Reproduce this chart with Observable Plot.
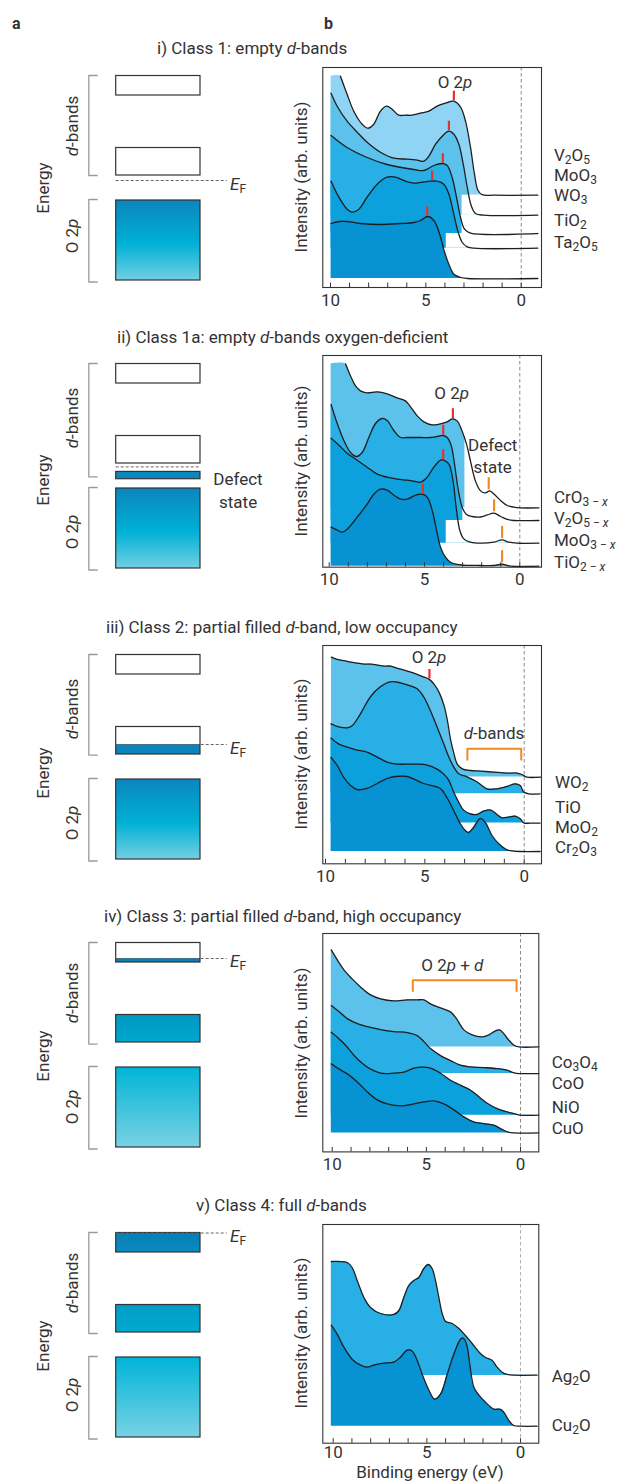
<!DOCTYPE html>
<html><head><meta charset="utf-8">
<script src="https://cdn.jsdelivr.net/npm/d3@7"></script>
<script src="https://cdn.jsdelivr.net/npm/@observablehq/plot@0.6"></script>
<style>
body{margin:0;background:#fff;}
#fig{position:relative;width:622px;height:1482px;font-family:Roboto,"Open Sans",sans-serif;color:#333;overflow:hidden;background:#fff}
#fig svg{position:absolute;overflow:visible}
.t{position:absolute;white-space:nowrap;line-height:1;font-size:17px}
.t sub{font-size:12px;vertical-align:-0.32em;line-height:0}
.b{font-weight:bold}
</style></head><body><div id="fig"></div>
<script>
// ---------------- DATA ----------------
const energyTicks = [0,1,2,3,4,5,6,7,8,9,10];
const energyTickLabels = [10,5,0];

const rowTitles = [
  "i) Class 1: empty <i>d</i>-bands",
  "ii) Class 1a: empty <i>d</i>-bands oxygen-deficient",
  "iii) Class 2: partial filled <i>d</i>-band, low occupancy",
  "iv) Class 3: partial filled <i>d</i>-band, high occupancy",
  "v) Class 4: full <i>d</i>-bands"
];

// Row i spectra (binding energy eV, intensity above own baseline, arb. units)
const r1Names = ["V<sub>2</sub>O<sub>5</sub>","MoO<sub>3</sub>","WO<sub>3</sub>","TiO<sub>2</sub>","Ta<sub>2</sub>O<sub>5</sub>"];
const r1Offsets = [92.3, 72.3, 54, 39.3, 9];
const r1_V2O5 = [[9.48,119],[9.13,101],[8.78,84],[8.34,71],[8.04,67],[7.73,71],[7.38,84],[7.06,89],[6.77,86],[6.42,80],[6.07,80],[5.72,80],[5.28,82],[4.84,84],[4.41,89],[3.97,92],[3.53,94],[3.18,88],[2.92,74],[2.66,48],[2.45,21],[2.27,5],[2.05,0.5],[1.43,0],[-0.87,0]];
const r1_MoO3 = [[9.97,122],[9.65,109],[9.13,94],[8.6,83],[8.08,73],[7.38,63],[6.68,57],[5.98,56],[5.45,55],[5.1,54],[4.84,59],[4.49,71],[4.14,79],[3.79,84],[3.53,81],[3.27,71],[3.04,51],[2.83,28],[2.62,9.4],[2.4,1.7],[1.96,0],[-0.87,0]];
const r1_WO3 = [[9.97,98],[9.13,86],[8.08,76],[7.03,69],[5.63,64],[5.1,63],[4.58,68],[4.14,70],[3.88,68],[3.62,56],[3.39,36],[3.18,16],[2.97,4.3],[2.66,0.3],[-0.87,0]];
const r1_TiO2 = [[9.97,67],[9.56,51],[9.13,39],[8.86,36],[8.51,39],[8.08,51],[7.55,64],[7.03,71],[6.59,71],[6.07,67],[5.63,65],[5.19,66],[4.76,67],[4.41,67],[4.06,64],[3.79,54],[3.57,37],[3.32,17],[3.09,5.7],[2.83,1.4],[2.48,0],[-0.87,0]];
const r1_Ta2O5 = [[9.97,55],[9.56,57],[9.13,57],[8.43,55],[7.38,54],[6.33,55],[5.63,56],[5.28,58],[4.9,62],[4.58,58],[4.27,44],[4.06,29],[3.79,14],[3.53,4.3],[3.18,1],[2.83,0],[-0.87,0]];
const r1Cutoffs = [null, 3.1, 3.1, 3.93, null];
const r1O2p = [3.53, 3.79, 4.11, 4.67, 4.93];

// Row ii spectra
const r2Names = ["CrO<sub>3 − <i>x</i></sub>","V<sub>2</sub>O<sub>5 − <i>x</i></sub>","MoO<sub>3 − <i>x</i></sub>","TiO<sub>2 − <i>x</i></sub>"];
const r2Offsets = [59.3, 46.7, 24, 1];
const r2_CrO3x = [[9.14,144],[8.88,132],[8.62,122],[8.36,117],[8.01,115],[7.48,116],[6.96,114],[6.43,110],[6,107],[5.65,99],[5.38,92],[5.03,86],[4.6,83],[4.16,84],[3.81,86],[3.55,89],[3.29,87],[3.03,77],[2.8,64],[2.59,47],[2.33,27],[2.06,17],[1.8,15],[1.59,17],[1.36,14],[1.01,7.4],[0.66,2.4],[0.31,0.7],[-0.03,0],[-1,0]];
const r2_V2O5x = [[9.9,116],[9.58,97],[9.23,80],[8.88,68],[8.57,64],[8.27,68],[7.92,83],[7.57,97],[7.22,102],[6.96,100],[6.61,90],[6.26,83],[5.91,83],[5.21,83],[4.69,83],[4.34,84],[4.04,85],[3.81,83],[3.6,75],[3.43,57],[3.25,33],[3.02,13],[2.8,6],[2.5,4],[2.06,3.5],[1.71,5.5],[1.36,7.3],[1.01,4],[0.66,1],[0.31,0],[-1,0]];
const r2_MoO3x = [[9.9,105],[9.49,98],[9.06,90],[8.53,83],[8.01,76],[7.48,69],[6.96,66],[6.43,64],[5.91,63],[5.56,62],[5.21,61],[4.86,66],[4.51,76],[4.16,83],[3.99,83],[3.72,79],[3.51,63],[3.34,36],[3.15,13],[2.94,4.3],[2.59,1],[2.06,0],[1.36,1],[0.93,3.3],[0.58,1],[0.14,0],[-1,0]];
const r2_TiO2x = [[9.9,39],[9.58,36],[9.32,34],[9.06,37],[8.53,49],[8.01,62],[7.66,72],[7.31,77],[6.96,76],[6.61,71],[6.26,67],[5.91,67],[5.47,71],[5.12,72],[4.86,69],[4.6,56],[4.37,36],[4.16,19],[3.9,9],[3.64,4],[3.11,1.3],[2.06,0.7],[1.36,0.7],[0.93,2],[0.49,0],[-1,0]];
const r2Cutoffs = [2.88, 2.99, 3.86, null];
const r2O2p = [3.51, 4.02, 4.02, 5.09];
const r2Defect = [1.63, 1.35, 0.93, 0.93];

// Row iii spectra
const r3Names = ["WO<sub>2</sub>","TiO","MoO<sub>2</sub>","Cr<sub>2</sub>O<sub>3</sub>"];
const r3Offsets = [86.7, 70, 40.7, 12.3];
const r3_WO2 = [[9.7,120],[9.45,118],[9.23,117],[8.95,116],[8.73,115],[8.4,114],[8.06,113],[7.7,113],[7.39,112],[7.05,111],[6.72,111],[6.4,109],[6.05,107],[5.55,104],[5.04,100],[4.79,98],[4.54,93],[4.29,85],[4.04,72],[3.87,57],[3.7,37],[3.53,23],[3.37,13],[3.12,8.3],[2.7,6.6],[2.21,6],[1.54,5],[0.87,4],[0.37,4],[0.12,2.6],[-0.13,0],[-0.82,0]];
const r3_TiO = [[9.72,70],[9.33,67],[8.91,66],[8.66,68],[8.24,80],[7.74,97],[7.24,107],[6.73,112],[6.23,111],[5.73,108],[5.39,105],[5.06,97],[4.72,83],[4.39,67],[4.05,50],[3.8,37],[3.55,27],[3.3,20],[2.88,17],[2.38,12],[1.88,5],[1.37,5],[0.87,7.3],[0.45,10],[0.2,8.3],[0.03,1.7],[-0.22,0],[-0.8,0]];
const r3_MoO2 = [[9.72,85],[9.33,79],[8.91,76],[8.41,73],[7.91,71],[7.4,66],[6.9,61],[6.4,59],[5.56,59],[4.89,58],[4.39,54],[4.05,49],[3.8,43],[3.55,31],[3.3,21],[3.05,13],[2.71,9.3],[2.38,8.6],[2.04,12],[1.68,13],[1.37,8.6],[1.12,5.3],[0.79,6],[0.45,7],[0.2,4.3],[0,0],[-0.3,0],[-0.8,0]];
const r3_Cr2O3 = [[9.72,94],[9.41,86],[9.08,74],[8.74,66],[8.41,62],[7.91,63],[7.4,68],[6.9,73],[6.48,75],[5.9,75],[5.06,68],[4.22,63],[3.89,54],[3.55,41],[3.22,28],[2.96,21],[2.8,19],[2.55,24],[2.21,33],[1.96,29],[1.62,16],[1.28,7.7],[0.87,1.7],[0.54,0.4],[0.2,0],[-0.8,0]];
const r3O2p = [4.77];
const r3DBands = [2.86, 0.15];

// Row iv spectra
const r4Names = ["Co<sub>3</sub>O<sub>4</sub>","CoO","NiO","CuO"];
const r4Offsets = [105, 78.3, 36.7, 19];
const r4_Co3O4 = [[10.05,97],[9.73,87],[9.38,77],[8.94,68],[8.5,60],[7.96,52],[7.43,48],[6.73,46],[6.02,47],[5.49,47],[5.13,47],[4.78,43],[4.25,39],[3.72,35],[3.36,27],[3.01,17],[2.57,12],[2.04,10],[1.68,12],[1.33,16],[1.1,17],[0.88,13],[0.62,6.7],[0.35,1.7],[0.09,0],[-0.97,0]];
const r4_CoO = [[10.05,68],[9.65,62],[9.2,55],[8.67,50],[8.14,47],[7.43,44],[6.73,42],[6.02,41],[5.49,38],[5.13,32],[4.78,25],[4.25,18],[3.72,13],[3.19,8.4],[2.65,6.7],[1.95,6],[1.24,5],[0.71,3.4],[0.35,0.7],[0,0],[-0.97,0]];
const r4_NiO = [[10.05,83],[9.73,78],[9.29,70],[8.85,60],[8.41,52],[7.96,46],[7.43,42],[6.73,42],[6.19,43],[5.66,47],[5.22,48],[4.78,47],[4.25,42],[3.72,35],[3.19,30],[2.65,25],[2.12,17],[1.77,12],[1.24,6.6],[0.71,3.3],[0.35,1.6],[0,0],[-0.97,0]];
const r4_CuO = [[10.05,69],[9.65,64],[9.2,59],[8.67,51],[8.14,41],[7.61,33],[7.08,29],[6.37,27],[5.66,29],[5.13,31],[4.6,32],[4.07,29],[3.54,23],[3.01,16],[2.48,11],[1.95,9.3],[1.42,7.7],[1.06,4.3],[0.71,1],[0.35,0],[-0.97,0]];
const r4Bracket = [5.72, 0.21];

// Row v spectra
const r5Names = ["Ag<sub>2</sub>O","Cu<sub>2</sub>O"];
const r5Offsets = [67.7, 17];
const r5_Ag2O = [[10.1,114],[9.7,114],[9.25,113],[8.99,108],[8.72,95],[8.36,78],[8.01,68],[7.47,62],[6.76,61],[6.49,65],[6.23,78],[5.96,90],[5.69,95],[5.43,98],[5.16,107],[4.93,111],[4.72,107],[4.54,95],[4.36,78],[4.18,62],[4,54],[3.65,52],[3.29,47],[2.94,40],[2.58,32],[2.14,22],[1.87,18],[1.51,15],[1.25,8.3],[0.98,3.3],[0.71,1],[0.36,0.3],[-0.89,0.3]];
const r5_Cu2O = [[10.1,101],[9.79,92],[9.43,79],[8.99,67],[8.54,61],[8.19,59],[7.83,61],[7.3,63],[6.76,64],[6.41,69],[6.05,76],[5.78,75],[5.52,66],[5.25,52],[4.89,36],[4.59,27],[4.27,32],[3.91,52],[3.56,72],[3.2,87],[3.06,88],[2.88,82],[2.71,62],[2.49,39],[2.22,31],[1.87,24],[1.42,17],[1.1,17],[0.89,14],[0.62,5.7],[0.36,0.7],[0,0],[-0.89,0]];

// Panel a: schematic band energies (arb. energy units, 0 = bottom of O 2p band)
const bandO2p = [0, 80];
const bandDLower = [105, 132.5];
const bandDUpper = [185, 204.5];
const bracketD = [105, 205];
const bracketO = [-1.5, 81];
const fermiLevels = [100, 101.6, 115, 189, 204.5];
const defectBand = [89.3, 96.6];
const filledPartLow = [105, 115];   // class 2
const filledPartHigh = [185, 189];  // class 3

// ---------------- STYLE ----------------
const specColors = ["#8fd4f4","#5cc2ec","#28afe5","#0ca1dd","#0793d3"];
const RED = "#e8312e", ORANGE = "#f08a24", LINE = "#1e1e1e";
const FONT = 'Roboto, "Open Sans", sans-serif';
const fig = document.getElementById("fig");

function txt(html, x, y, o = {}) {
  const d = document.createElement("div");
  d.className = "t" + (o.cls ? " " + o.cls : "");
  d.innerHTML = html;
  d.style.left = x + "px"; d.style.top = y + "px";
  if (o.size) d.style.fontSize = o.size + "px";
  let tf = o.center ? "translate(-50%,-50%)" : "translate(0,-50%)";
  if (o.rotate) tf += ` rotate(${o.rotate}deg)`;
  d.style.transform = tf;
  fig.appendChild(d);
  return d;
}

function interp(data, x) {
  for (let i = 0; i < data.length - 1; i++) {
    const [x0, y0] = data[i], [x1, y1] = data[i + 1];
    if (x <= x0 && x >= x1) return y0 + (y1 - y0) * (x - x0) / (x1 - x0);
  }
  return 0;
}

// ---------------- PANEL b ----------------
function spectraPanel(p) {
  const left = 280, width = 342, mt = 8, mb = 34;
  const H = p.bottom - p.top;
  const ml = 322.3 - left, mr = left + width - p.right;
  const marks = [];
  p.series.forEach((d, i) => {
    const base = p.offsets[i];
    let pts = d.slice();
    if (p.fillFrom && p.fillFrom[i] != null) pts.unshift([p.fillFrom[i], d[0][1]]);
    marks.push(Plot.areaY(pts, {x: q => q[0], y1: () => base, y2: q => base + q[1], fill: p.colors[i], curve: "catmull-rom"}));
    // empty (unfilled) part: below the previous spectrum's baseline, at lower binding energy than the cutoff
    const cut = p.cutoffs ? p.cutoffs[i] : null;
    if (cut != null) {
      const upper = i > 0 ? p.offsets[i - 1] : H;
      marks.push(Plot.rect([cut], {x1: c => c, x2: () => p.domain[1], y1: () => base, y2: () => upper, fill: "white"}));
    }
  });
  marks.push(Plot.ruleX([0], {stroke: p.zeroColor || "#8a8a8a", strokeWidth: 1, strokeDasharray: "3.5,2.5"}));
  marks.push(Plot.ruleX(energyTicks, {x: d => d, y1: () => 0, y2: () => 4.5, stroke: "#333", strokeWidth: 1}));
  p.series.forEach((d, i) => {
    const base = p.offsets[i];
    marks.push(Plot.line(d, {x: q => q[0], y: q => base + q[1], stroke: LINE, strokeWidth: 1.3, curve: "catmull-rom"}));
  });
  (p.markers || []).forEach(m => {
    const base = p.offsets[m.i];
    const v = base + interp(p.series[m.i], m.x);
    marks.push(Plot.ruleX([m.x], {x: d => d, y1: () => v + m.gap, y2: () => v + m.gap + m.len, stroke: m.color, strokeWidth: 2.2}));
  });
  (p.brackets || []).forEach(b => {
    marks.push(Plot.line([[b.x[0], b.leg], [b.x[0], b.top], [b.x[1], b.top], [b.x[1], b.leg]], {x: q => q[0], y: q => q[1], stroke: ORANGE, strokeWidth: 2}));
  });
  marks.push(Plot.frame({stroke: "#333", strokeWidth: 1.1}));
  marks.push(Plot.axisX(energyTickLabels, {tickSize: 0, tickPadding: p.tickPadding ?? 6, fontSize: 17, label: null, tickFormat: d => String(d)}));
  const svg = Plot.plot({
    width, height: H + mt + mb,
    marginLeft: ml, marginRight: mr, marginTop: mt, marginBottom: mb,
    x: {domain: p.domain},
    y: {domain: [0, H], axis: null},
    style: {fontFamily: FONT, fontSize: "17px", color: "#333", background: "transparent", overflow: "visible"},
    marks
  });
  svg.style.left = left + "px"; svg.style.top = (p.top - mt) + "px";
  fig.appendChild(svg);
  txt("Intensity (arb. units)", 300.7, (p.top + p.bottom) / 2, {center: true, rotate: -90});
  p.names.forEach((n, i) => txt(n, p.labelX, p.labelY[i]));
}

// ---------------- PANEL a ----------------
let gid = 0;
function bandPanel(p) {
  const H = 232, top = p.bottom - 215;
  const X1 = 115.7, X2 = 200, BX = 88.3, BT = 96.7;
  const defs = [];
  function grad(stops) {
    const id = "g" + (gid++);
    defs.push(`<linearGradient id="${id}" x1="0" y1="0" x2="0" y2="1">` +
      stops.map(s => `<stop offset="${s[0]}" stop-color="${s[1]}"/>`).join("") + `</linearGradient>`);
    return `url(#${id})`;
  }
  const marks = [];
  p.fills.forEach(f => {
    const fill = Array.isArray(f.color) ? grad(f.color) : f.color;
    marks.push(Plot.rect([f.band], {x1: () => X1, x2: () => X2, y1: d => d[0], y2: d => d[1], fill}));
  });
  marks.push(Plot.rect([bandDLower, bandDUpper, bandO2p].concat(p.extraBoxes || []),
    {x1: () => X1, x2: () => X2, y1: d => d[0], y2: d => d[1], fill: "none", stroke: "#333", strokeWidth: 1.2}));
  marks.push(Plot.ruleY([p.ef], {y: d => d, x1: () => X1, x2: () => p.efEnd, stroke: "#666", strokeWidth: 1, strokeDasharray: "3,2"}));
  [bracketD.slice(), bracketO].forEach((b, k) => {
    const bb = (k === 0 && p.bracketDLow != null) ? [p.bracketDLow, b[1]] : b;
    marks.push(Plot.line([[BT, bb[1]], [BX, bb[1]], [BX, bb[0]], [BT, bb[0]]], {x: q => q[0], y: q => q[1], stroke: "#9a9a9a", strokeWidth: 1.3}));
  });
  const svg = Plot.plot({
    width: 280, height: H, marginLeft: 0, marginRight: 0, marginTop: 0, marginBottom: 0,
    x: {domain: [0, 280], axis: null},
    y: {domain: [215 - H, 215], axis: null},
    style: {background: "transparent", overflow: "visible"},
    marks
  });
  const d = document.createElementNS("http://www.w3.org/2000/svg", "defs");
  d.innerHTML = defs.join("");
  svg.insertBefore(d, svg.firstChild);
  svg.style.left = "0px"; svg.style.top = top + "px";
  fig.appendChild(svg);
  const yOf = e => p.bottom - e;
  txt("<i>d</i>-bands", 72, p.dLabelY, {center: true, rotate: -90});
  txt("O 2<i>p</i>", 72, p.oLabelY, {center: true, rotate: -90});
  txt("Energy", 43, p.energyY, {center: true, rotate: -90});
  if (p.efLabel) txt("<i>E</i><sub>F</sub>", 230, yOf(p.ef) + 3.5);
}

const gradDeep = [[0, "#0a86be"], [0.55, "#00b1d5"], [1, "#74cfe2"]];
const gradLight = [[0, "#00b4d7"], [1, "#79d2e4"]];

// ---------------- BUILD ----------------
txt("a", 12, 24, {cls: "b", size: 16});
txt("b", 324, 24, {cls: "b", size: 16});
txt(rowTitles[0], 157, 48);
txt(rowTitles[1], 117, 336.5);
txt(rowTitles[2], 106, 626.5);
txt(rowTitles[3], 104, 916);
txt(rowTitles[4], 196, 1205);

// Row i
bandPanel({bottom: 280, ef: fermiLevels[0], efEnd: 226.7, efLabel: true,
  fills: [{band: bandO2p, color: gradDeep}],
  dLabelY: 125.8, oLabelY: 236, energyY: 187.5});
spectraPanel({top: 66.7, bottom: 286.7, right: 541, domain: [10.404, -1.064],
  series: [r1_V2O5, r1_MoO3, r1_WO3, r1_TiO2, r1_Ta2O5], offsets: r1Offsets,
  colors: specColors, cutoffs: r1Cutoffs, fillFrom: [9.97, null, null, null, null],
  markers: r1O2p.map((x, i) => ({i, x, gap: 0.5, len: 9.5, color: RED})),
  names: r1Names, labelX: 554, labelY: [155, 175, 195, 220, 241.7]});
txt("O 2<i>p</i>", 455, 81.7, {center: true});

// Row ii
bandPanel({bottom: 568.3, ef: fermiLevels[1], efEnd: 200, efLabel: false,
  fills: [{band: bandO2p, color: gradDeep}, {band: defectBand, color: "#0a89c1"}],
  extraBoxes: [defectBand], bracketDLow: 91.6,
  dLabelY: 417.5, oLabelY: 532.3, energyY: 480});
txt("Defect", 213.3, 479.3);
txt("state", 219, 501.7);
spectraPanel({top: 355, bottom: 566.7, right: 541, domain: [10.336, -1.138],
  series: [r2_CrO3x, r2_V2O5x, r2_MoO3x, r2_TiO2x], offsets: r2Offsets,
  colors: specColors.slice(1), cutoffs: r2Cutoffs, fillFrom: [9.9, null, null, null],
  markers: r2O2p.map((x, i) => ({i, x, gap: 0.5, len: 10, color: RED}))
    .concat(r2Defect.map((x, i) => ({i, x, gap: 1.5, len: 12, color: ORANGE}))),
  names: r2Names, labelX: 554, labelY: [496.7, 518.3, 540, 561.7]});
txt("O 2<i>p</i>", 451.7, 393.3, {center: true});
txt("Defect", 492.7, 445, {center: true});
txt("state", 492.7, 466.7, {center: true});

// Row iii
bandPanel({bottom: 859.3, ef: fermiLevels[2], efEnd: 226.7, efLabel: true,
  fills: [{band: bandO2p, color: gradDeep}, {band: filledPartLow, color: "#0a84bb"}],
  bracketDLow: 104.3,
  dLabelY: 709.2, oLabelY: 822.5, energyY: 772.5});
spectraPanel({top: 645, bottom: 863.3, right: 541, domain: [10.136, -0.87],
  series: [r3_WO2, r3_TiO, r3_MoO2, r3_Cr2O3], offsets: r3Offsets,
  colors: specColors.slice(1),
  markers: r3O2p.map((x, i) => ({i, x, gap: 0.5, len: 9.5, color: RED})),
  brackets: [{x: r3DBands, top: 115, leg: 104}],
  names: r3Names, labelX: 555, labelY: [781.7, 806.7, 826.7, 846.7]});
txt("O 2<i>p</i>", 429, 656.7, {center: true});
txt("<i>d</i>-bands", 494, 733.3, {center: true});

// Row iv
bandPanel({bottom: 1146.7, ef: fermiLevels[3], efEnd: 226.7, efLabel: true,
  fills: [{band: bandO2p, color: gradLight}, {band: bandDLower, color: [[0, "#0098c3"], [1, "#00a8ce"]]}, {band: filledPartHigh, color: "#0a80b6"}],
  bracketDLow: 103.4,
  dLabelY: 993.3, oLabelY: 1106.7, energyY: 1055.8});
spectraPanel({top: 933.3, bottom: 1151.7, right: 538.3, domain: [10.5, -0.97],
  series: [r4_Co3O4, r4_CoO, r4_NiO, r4_CuO], offsets: r4Offsets,
  colors: specColors.slice(1),
  brackets: [{x: r4Bracket, top: 171.7, leg: 161}],
  names: r4Names, labelX: 551.7, labelY: [1061.7, 1083.3, 1106.7, 1128.3]});
txt("O 2<i>p</i> + <i>d</i>", 452.3, 965, {center: true});

// Row v
bandPanel({bottom: 1436.7, ef: fermiLevels[4], efEnd: 226.7, efLabel: true,
  fills: [{band: bandO2p, color: gradLight}, {band: bandDLower, color: [[0, "#009ec8"], [1, "#00a9cf"]]}, {band: bandDUpper, color: [[0, "#067fb5"], [1, "#0a8abf"]]}],
  bracketDLow: 104,
  dLabelY: 1283.3, oLabelY: 1395, energyY: 1345.8});
spectraPanel({top: 1224, bottom: 1442.7, right: 538.3, domain: [10.555, -0.977],
  series: [r5_Ag2O, r5_Cu2O], offsets: r5Offsets, tickPadding: 3,
  colors: [specColors[2], specColors[4]], zeroColor: "#b0b0b0",
  names: r5Names, labelX: 551.7, labelY: [1376, 1425]});
txt("Binding energy (eV)", 430, 1472, {center: true});
</script></body></html>
